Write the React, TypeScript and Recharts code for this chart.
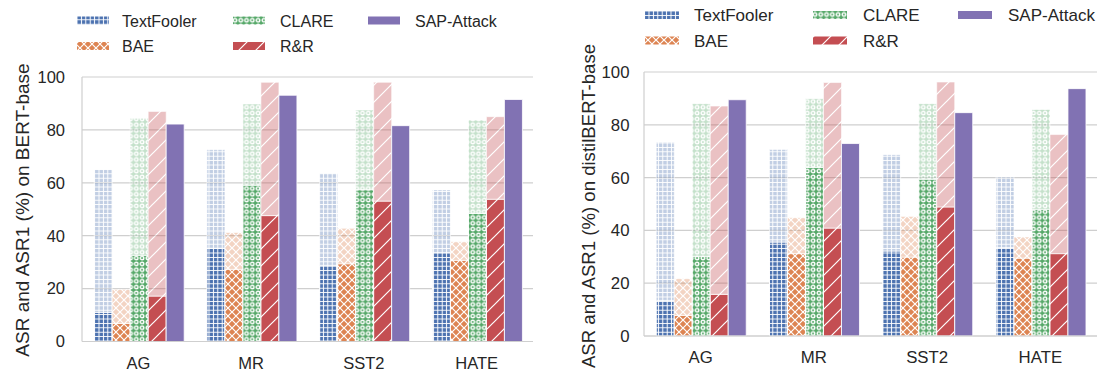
import React from 'react'
import { BarChart, Bar, XAxis, YAxis, CartesianGrid } from 'recharts'

const datasets = ['AG', 'MR', 'SST2', 'HATE']
const methods = ['TextFooler', 'BAE', 'CLARE', 'R&R']
const ours = 'SAP-Attack'
const yTicks = [0, 20, 40, 60, 80, 100]

// BERT-base: ASR (pale, full height) and ASR1 (solid part)
const bertAsr: Record<string, number[]> = {
  TextFooler: [65, 72.5, 63.5, 57.3],
  BAE: [19.7, 41.2, 42.8, 37.7],
  CLARE: [84.4, 89.8, 87.5, 83.7],
  'R&R': [87, 98, 98, 85],
}
const bertAsr1: Record<string, number[]> = {
  TextFooler: [11, 35.3, 28.8, 33.6],
  BAE: [6.8, 27.3, 29.4, 30.7],
  CLARE: [32.6, 59.1, 57.4, 48.4],
  'R&R': [17.2, 47.6, 53.1, 53.8],
}
const bertSap = [82.2, 93.1, 81.6, 91.5]

// distilBERT-base
const distilAsr: Record<string, number[]> = {
  TextFooler: [73.4, 70.6, 68.7, 60.2],
  BAE: [21.7, 44.8, 45.3, 37.5],
  CLARE: [88, 89.9, 88, 85.8],
  'R&R': [87.1, 96, 96.2, 76.3],
}
const distilAsr1: Record<string, number[]> = {
  TextFooler: [13.5, 35.6, 32.2, 33.5],
  BAE: [7.8, 31.2, 29.9, 29.5],
  CLARE: [30.2, 63.8, 59.4, 48],
  'R&R': [15.8, 40.9, 48.9, 31.2],
}
const distilSap = [89.5, 72.9, 84.6, 93.7]

const colors = ['#4C72B0', '#DD8452', '#55A868', '#C44E52']
const sapColor = '#8172B3'
const font = '"Liberation Sans", Arial, sans-serif'
const ink = '#262626'
const gridColor = '#cfcfcf'

function buildRows(asr: Record<string, number[]>, asr1: Record<string, number[]>, sap: number[]) {
  return datasets.map((name, i) => {
    const row: Record<string, any> = { name, sap: sap[i] }
    methods.forEach((m, k) => {
      row[`lo${k}`] = asr1[m][i]
      row[`hi${k}`] = asr[m][i] - asr1[m][i]
    })
    return row
  })
}

function Hatches() {
  return (
    <svg width={0} height={0} style={{ position: 'absolute' }}>
      <defs>
        <pattern id="hatch0" patternUnits="userSpaceOnUse" width={4.4} height={4.4}>
          <rect width={4.4} height={4.4} fill={colors[0]} />
          <path d="M0,2.2H4.4M2.2,0V4.4" stroke="#fff" strokeWidth={1} />
        </pattern>
        <pattern id="hatch1" patternUnits="userSpaceOnUse" width={8} height={8}>
          <rect width={8} height={8} fill={colors[1]} />
          <path d="M-1,-1L9,9M9,-1L-1,9" stroke="#fff" strokeWidth={1.2} />
        </pattern>
        <pattern id="hatch2" patternUnits="userSpaceOnUse" width={5.8} height={5.8}>
          <rect width={5.8} height={5.8} fill={colors[2]} />
          <circle cx={2.9} cy={2.9} r={1.75} fill="none" stroke="#fff" strokeWidth={1.4} />
        </pattern>
        <pattern id="hatch3" patternUnits="userSpaceOnUse" width={17} height={17}>
          <rect width={17} height={17} fill={colors[3]} />
          <path d="M-2,19L19,-2M-4,4L4,-4M13,21L21,13" stroke="#fff" strokeWidth={1.2} />
        </pattern>
      </defs>
    </svg>
  )
}

function YTitle(props: any) {
  const { value, cx, cy, size } = props
  return (
    <text
      x={cx}
      y={cy}
      transform={`rotate(-90 ${cx} ${cy})`}
      textAnchor="middle"
      dominantBaseline="central"
      fontSize={size}
      fill={ink}
      fontFamily={font}
    >
      {value}
    </text>
  )
}

function Legend({ swatchX, textX, rows, size, swatchW }: any) {
  const names = [...methods, ours]
  return (
    <svg width={1101} height={60} style={{ position: 'absolute', left: 0, top: 0 }}>
      {names.map((n, i) => {
        const col = Math.floor(i / 2)
        const row = i % 2
        const fill = i < methods.length ? `url(#hatch${i})` : sapColor
        return (
          <g key={n}>
            <rect x={swatchX[col]} y={rows[row] - 4.5} width={swatchW} height={8} fill={fill} />
            <text x={textX[col]} y={rows[row]} dominantBaseline="central" fontSize={size} fill={ink} fontFamily={font}>
              {n}
            </text>
          </g>
        )
      })}
    </svg>
  )
}

function Panel(props: any) {
  const { rows, left, width, margin, yWidth, label, labelX, labelY, labelSize, tickSize, yGap, xGap } = props
  const tick = { fontSize: tickSize, fill: ink, fontFamily: font }
  return (
    <div style={{ position: 'absolute', left, top: 0 }}>
      <BarChart width={width} height={373} data={rows} margin={margin} barCategoryGap="10.8%" barGap={0}>
        <CartesianGrid vertical={false} stroke={gridColor} strokeWidth={1.2} />
        <XAxis
          dataKey="name"
          height={30}
          tick={tick}
          tickLine={false}
          tickSize={0}
          tickMargin={xGap}
          axisLine={{ stroke: gridColor, strokeWidth: 1.2 }}
        />
        <YAxis
          width={yWidth}
          domain={[0, 100]}
          ticks={yTicks}
          tick={tick}
          tickLine={false}
          tickSize={0}
          tickMargin={yGap}
          axisLine={{ stroke: gridColor, strokeWidth: 1.2 }}
          label={<YTitle value={label} cx={labelX} cy={labelY} size={labelSize} />}
        />
        <YAxis
          yAxisId="right"
          orientation="right"
          width={0}
          domain={[0, 100]}
          tick={false}
          tickLine={false}
          axisLine={{ stroke: gridColor, strokeWidth: 1.2 }}
        />
        {methods.map((m, k) => [
          <Bar
            key={`lo${k}`}
            dataKey={`lo${k}`}
            stackId={m}
            fill={`url(#hatch${k})`}
            stroke="#fff"
            strokeWidth={1}
            isAnimationActive={false}
          />,
          <Bar
            key={`hi${k}`}
            dataKey={`hi${k}`}
            stackId={m}
            fill={`url(#hatch${k})`}
            fillOpacity={0.35}
            stroke="rgba(255,255,255,0.6)"
            strokeWidth={1}
            isAnimationActive={false}
          />,
        ])}
        <Bar dataKey="sap" stackId="sap" fill={sapColor} stroke="#fff" strokeWidth={0.8} isAnimationActive={false} />
      </BarChart>
    </div>
  )
}

export default function App() {
  const bertRows = buildRows(bertAsr, bertAsr1, bertSap)
  const distilRows = buildRows(distilAsr, distilAsr1, distilSap)
  return (
    <div style={{ position: 'absolute', left: 0, top: 0, width: 1101, height: 373, background: '#fff', fontFamily: font }}>
      <Hatches />
      <Panel
        rows={bertRows}
        left={0}
        width={545}
        margin={{ top: 77, right: 12, bottom: 1.5, left: 0 }}
        yWidth={82}
        label="ASR and ASR1 (%) on BERT-base"
        labelX={22.5}
        labelY={210}
        labelSize={19}
        tickSize={16.5}
        yGap={17}
        xGap={16}
      />
      <Panel
        rows={distilRows}
        left={555}
        width={546}
        margin={{ top: 72, right: 4, bottom: 7, left: 0 }}
        yWidth={89}
        label="ASR and ASR1 (%) on distilBERT-base"
        labelX={33}
        labelY={206}
        labelSize={18.6}
        tickSize={16.8}
        yGap={14.5}
        xGap={15.5}
      />
      <Legend swatchX={[77, 233, 368]} textX={[122, 280, 415]} rows={[21, 46.5]} size={16} swatchW={32} />
      <Legend swatchX={[645, 813, 958]} textX={[694, 863, 1008]} rows={[15.5, 41]} size={17} swatchW={34} />
    </div>
  )
}
